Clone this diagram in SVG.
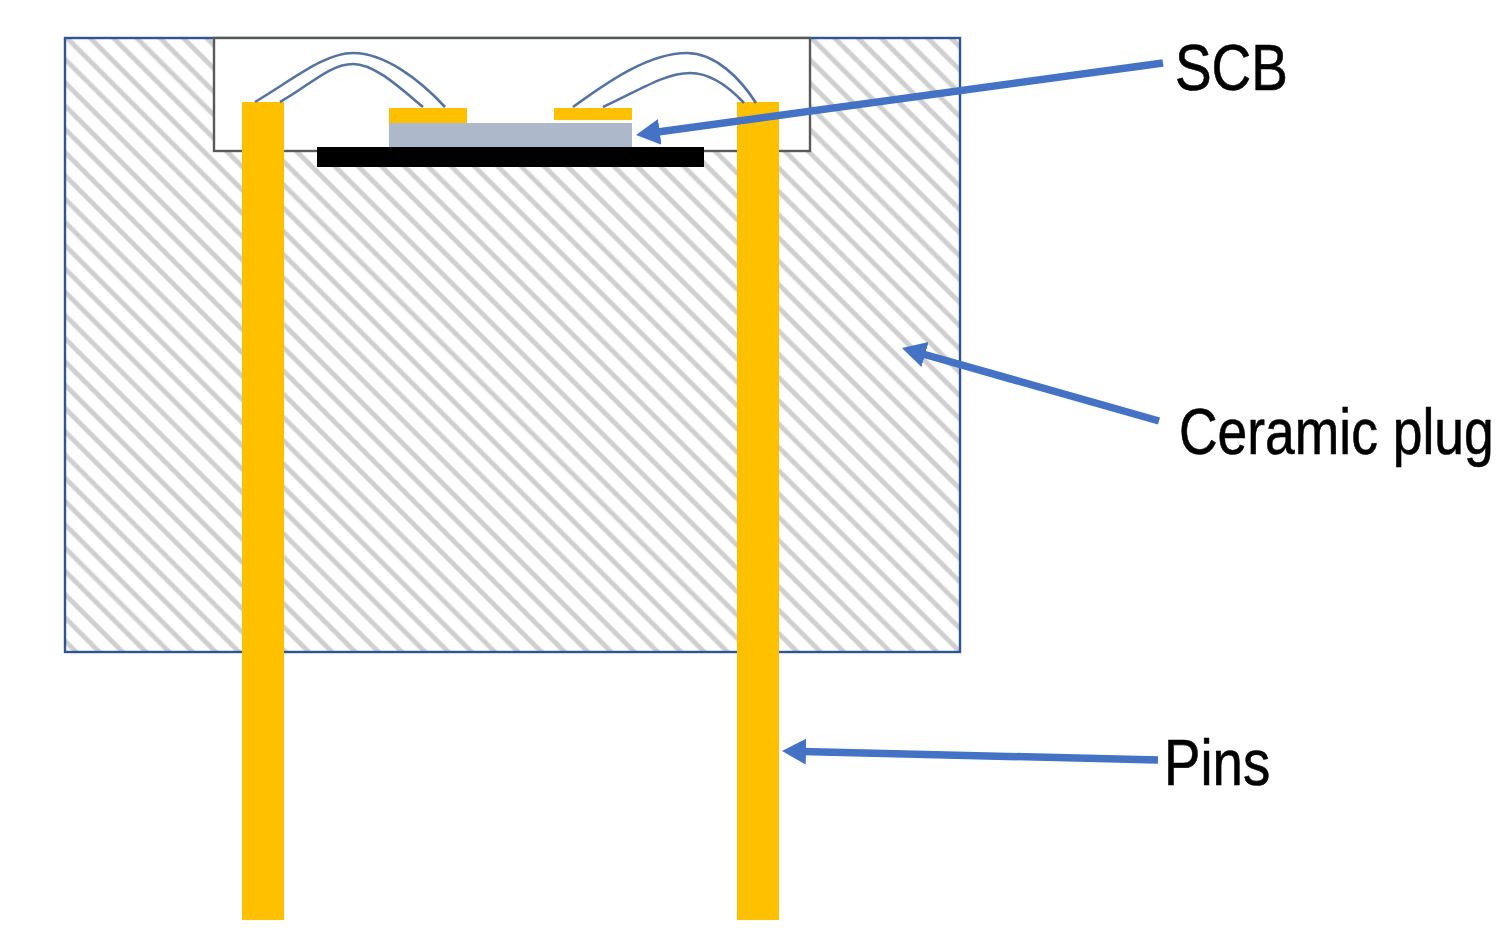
<svg xmlns="http://www.w3.org/2000/svg" width="1496" height="940" viewBox="0 0 1496 940">
<style>
.pin{fill:#ffc000}
.wire{fill:none;stroke:#55739f;stroke-width:2.6}
.arrow{fill:none;stroke:#4472c4;stroke-width:7.5;marker-end:url(#head)}
.label{font-family:"Liberation Sans",Arial,sans-serif;font-size:65px;fill:#000;stroke:#000;stroke-width:.6}
</style>
<defs>
<pattern id="hatch" patternUnits="userSpaceOnUse" width="16.45" height="16.45" patternTransform="translate(68 39) rotate(45)">
<rect width="16.45" height="16.45" fill="#fff"/>
<rect y="0" width="16.45" height="2.4" fill="#cfcfcf"/>
<rect y="14.05" width="16.45" height="2.4" fill="#cfcfcf"/>
</pattern>
<marker id="head" markerUnits="userSpaceOnUse" markerWidth="26" markerHeight="28" refX="4" refY="14" orient="auto">
<path d="M0 1L24 14L0 27Z" fill="#4472c4"/>
</marker>
</defs>
<rect width="1496" height="940" fill="#fff"/>
<g id="ceramic-plug"><rect x="65" y="38" width="895" height="614" fill="url(#hatch)" stroke="#2f5597" stroke-width="2.4"/></g>
<g id="cavity"><rect x="214" y="38" width="596" height="113" fill="#fff" stroke="#595959" stroke-width="2.4"/></g>
<g id="substrate"><rect x="317" y="147" width="387" height="20" fill="#000"/></g>
<g id="scb-chip"><rect x="389" y="123" width="243" height="24" fill="#adb9ca"/></g>
<g id="pad-left"><rect x="389" y="108" width="78" height="15" class="pin"/></g>
<g id="pad-right"><rect x="554" y="108" width="78" height="12" class="pin"/></g>
<g id="pin-left"><rect x="242" y="102" width="42" height="818" class="pin"/></g>
<g id="pin-right"><rect x="737" y="102" width="42" height="818" class="pin"/></g>
<g id="connectors">
<path class="wire" d="M255 102C295 78 325 53 353 53C385 53 420 80 445 107"/>
<path class="wire" d="M280 102C310 85 330 64 353 64C375 64 400 88 423 107"/>
<path class="wire" d="M573 107C610 80 650 53 687 53C715 53 740 78 756 103"/>
<path class="wire" d="M603 107C640 90 665 73 690 73C712 73 730 88 744 103"/>
<path class="arrow" d="M1163 63L655.8 132.3"/>
<path class="arrow" d="M1159 421L921.2 353.5"/>
<path class="arrow" d="M1158 760L802 751.5"/>
</g>
<g id="label-scb"><text class="label" transform="translate(1175 90) scale(.845 1)">SCB</text></g>
<g id="label-ceramic"><text class="label" transform="translate(1179 454) scale(.822 1)">Ceramic plug</text></g>
<g id="label-pins"><text class="label" transform="translate(1164 785) scale(.84 1)">Pins</text></g>
</svg>
